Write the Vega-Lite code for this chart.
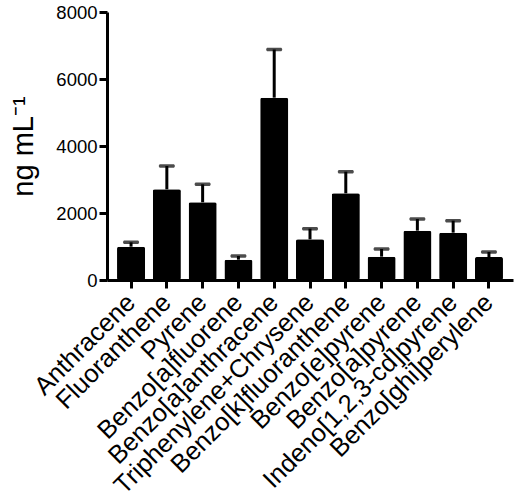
{
  "$schema": "https://vega.github.io/schema/vega-lite/v6.json",
  "width": 406,
  "height": 268,
  "autosize": "none",
  "padding": {"left": 107, "top": 12, "right": 4, "bottom": 218},
  "background": "white",
  "config": {
    "view": {"stroke": null},
    "font": "Liberation Sans"
  },
  "data": {
    "values": [
      {"compound": "Anthracene", "value": 994, "upper": 1125},
      {"compound": "Fluoranthene", "value": 2707, "upper": 3403},
      {"compound": "Pyrene", "value": 2319, "upper": 2856},
      {"compound": "Benzo[a]fluorene", "value": 606, "upper": 716},
      {"compound": "Benzo[a]anthracene", "value": 5443, "upper": 6880},
      {"compound": "Triphenylene+Chrysene", "value": 1214, "upper": 1532},
      {"compound": "Benzo[k]fluoranthene", "value": 2587, "upper": 3234},
      {"compound": "Benzo[e]pyrene", "value": 697, "upper": 925},
      {"compound": "Benzo[a]pyrene", "value": 1473, "upper": 1821},
      {"compound": "Indeno[1,2,3-cd]pyrene", "value": 1413, "upper": 1771},
      {"compound": "Benzo[ghi]perylene", "value": 687, "upper": 836}
    ]
  },
  "encoding": {
    "x": {
      "field": "compound",
      "type": "nominal",
      "sort": null,
      "scale": {"paddingInner": 0.216, "paddingOuter": 0.28},
      "axis": {
        "title": null,
        "labelAngle": -45,
        "labelAlign": "right",
        "labelBaseline": "middle",
        "labelFontSize": 25.5,
        "labelColor": "black",
        "labelPadding": 10,
        "labelLimit": 500,
        "labelOverlap": false,
        "domainColor": "black",
        "domainWidth": 3,
        "tickColor": "black",
        "tickWidth": 3,
        "tickSize": 8
      }
    }
  },
  "layer": [
    {
      "mark": {"type": "bar", "color": "black", "cornerRadius": 2},
      "encoding": {
        "y": {
          "field": "value",
          "type": "quantitative",
          "scale": {"domain": [0, 8000], "nice": false},
          "axis": {
            "title": "ng mL⁻¹",
            "titleFontSize": 29,
            "titleFontWeight": "normal",
            "titleColor": "black",
            "titlePadding": 17,
            "values": [0, 2000, 4000, 6000, 8000],
            "format": "d",
            "grid": false,
            "labelFontSize": 18.5,
            "labelColor": "black",
            "labelPadding": 2,
            "domainColor": "black",
            "domainWidth": 3,
            "tickColor": "black",
            "tickWidth": 3,
            "tickSize": 8
          }
        }
      }
    },
    {
      "mark": {"type": "rule", "color": "black", "strokeWidth": 3},
      "encoding": {
        "y": {"field": "value", "type": "quantitative"},
        "y2": {"field": "upper"}
      }
    },
    {
      "mark": {"type": "tick", "color": "black", "size": 16, "thickness": 3.5, "cornerRadius": 1.5},
      "encoding": {
        "y": {"field": "upper", "type": "quantitative"}
      }
    }
  ]
}
